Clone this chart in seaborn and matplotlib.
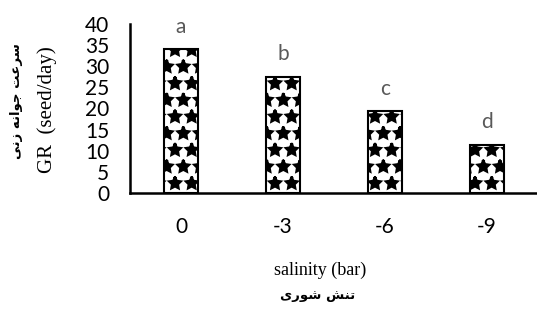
import matplotlib
matplotlib.use("Agg")
import matplotlib.pyplot as plt
import seaborn as sns
import pandas as pd

# data
salinity = ["0", "-3", "-6", "-9"]
gr_values = [34.0, 27.5, 19.3, 11.4]
letters = ["a", "b", "c", "d"]
y_ticks = [0, 5, 10, 15, 20, 25, 30, 35, 40]

df = pd.DataFrame({"salinity": salinity, "GR": gr_values})

sns.set_theme(style="white")
plt.rcParams["font.family"] = ["Lato", "DejaVu Sans"]
plt.rcParams["hatch.linewidth"] = 2.0

fig = plt.figure(figsize=(5.37, 3.11), dpi=100)
ax = fig.add_axes([130 / 537, 1 - 193 / 311, 408 / 537, (193 - 24) / 311])

sns.barplot(data=df, x="salinity", y="GR", order=salinity, color="white",
            edgecolor="black", linewidth=1.5, width=0.33, hatch="*",
            saturation=1, ax=ax)

ax.set_xlim(-0.5, 3.5)
ax.set_ylim(0, 40)
ax.set_yticks(y_ticks)
ax.set_yticklabels([str(t) for t in y_ticks])
ax.set_xlabel("")
ax.set_ylabel("")

for s in ["top", "right"]:
    ax.spines[s].set_visible(False)
for s in ["left", "bottom"]:
    ax.spines[s].set_color("black")
    ax.spines[s].set_linewidth(1.8)

ax.tick_params(axis="y", length=0, pad=15, labelsize=15, labelcolor="black")
ax.tick_params(axis="x", length=0, pad=17, labelsize=15, labelcolor="black")

for i, (v, lab) in enumerate(zip(gr_values, letters)):
    ax.annotate(lab, xy=(i, v), xytext=(0, 12), textcoords="offset points",
                ha="center", va="baseline", fontsize=15, color="#595959")

serif = ["Liberation Serif", "DejaVu Serif"]
fig.text(320 / 537, 1 - 270 / 311, "salinity (bar)", ha="center", va="center",
         fontsize=13, family=serif, color="black")
fig.text(47 / 537, 1 - 110 / 311, "GR  (seed/day)", ha="center", va="center",
         rotation=90, fontsize=15, family=serif, color="black")

# Persian text (presentation forms, visual order)
fa_y = "\uFEF0\uFEE7\uFEAF \uFEEA\uFEE7\uFE8D\uFEEE\uFE9F \uFE96\uFECB\uFEAE\uFEB3"
fa_x = "\uFEEF\uFEAD\uFEEE\uFEB7 \uFEB6\uFEE8\uFE97"
fig.text(17 / 537, 1 - 101 / 311, fa_y, ha="center", va="center", rotation=90,
         fontsize=9.5, family=["DejaVu Sans"], fontweight="bold", color="black")
fig.text(318 / 537, 1 - 295 / 311, fa_x, ha="center", va="center",
         fontsize=9.5, family=["DejaVu Sans"], fontweight="bold", color="black")

fig.savefig("out.png", dpi=100)
